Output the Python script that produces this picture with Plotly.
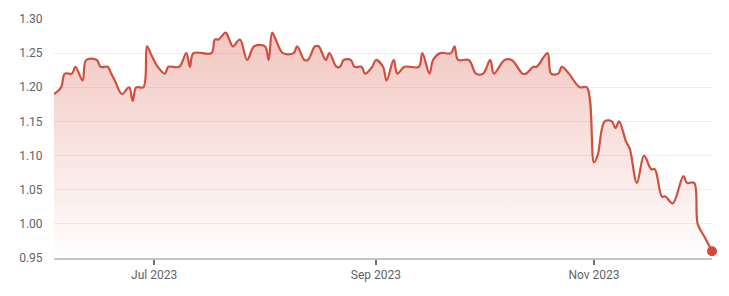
import plotly.graph_objects as go

dates = [
    "2023-06-03", "2023-06-05", "2023-06-06", "2023-06-08", "2023-06-09", "2023-06-11",
    "2023-06-12", "2023-06-15", "2023-06-16", "2023-06-18", "2023-06-19", "2023-06-20",
    "2023-06-22", "2023-06-24", "2023-06-25", "2023-06-26", "2023-06-28", "2023-06-29",
    "2023-06-30", "2023-07-02", "2023-07-04", "2023-07-05", "2023-07-08", "2023-07-10",
    "2023-07-11", "2023-07-12", "2023-07-17", "2023-07-18", "2023-07-19", "2023-07-21",
    "2023-07-22", "2023-07-23", "2023-07-25", "2023-07-27", "2023-07-29", "2023-08-01",
    "2023-08-02", "2023-08-03", "2023-08-04", "2023-08-06", "2023-08-09", "2023-08-10",
    "2023-08-12", "2023-08-13", "2023-08-15", "2023-08-16", "2023-08-18", "2023-08-19",
    "2023-08-21", "2023-08-22", "2023-08-23", "2023-08-25", "2023-08-26", "2023-08-28",
    "2023-08-29", "2023-08-31", "2023-09-01", "2023-09-03", "2023-09-04", "2023-09-06",
    "2023-09-07", "2023-09-09", "2023-09-13", "2023-09-14", "2023-09-16", "2023-09-17",
    "2023-09-19", "2023-09-22", "2023-09-23", "2023-09-24", "2023-09-27", "2023-09-29",
    "2023-10-01", "2023-10-03", "2023-10-04", "2023-10-07", "2023-10-09", "2023-10-12",
    "2023-10-13", "2023-10-15", "2023-10-16", "2023-10-19", "2023-10-20", "2023-10-22",
    "2023-10-23", "2023-10-25", "2023-10-28", "2023-10-30", "2023-11-01", "2023-11-02",
    "2023-11-04", "2023-11-06", "2023-11-07", "2023-11-08", "2023-11-10", "2023-11-11",
    "2023-11-13", "2023-11-15", "2023-11-17", "2023-11-18", "2023-11-20", "2023-11-21",
    "2023-11-23", "2023-11-26", "2023-11-27", "2023-11-29", "2023-11-30", "2023-12-02",
    "2023-12-04",
]
values = [
    1.19, 1.20, 1.22, 1.22, 1.23, 1.21,
    1.24, 1.24, 1.23, 1.23, 1.22, 1.21,
    1.19, 1.20, 1.18, 1.20, 1.20, 1.26,
    1.25, 1.23, 1.22, 1.23, 1.23, 1.25,
    1.23, 1.25, 1.25, 1.27, 1.27, 1.28,
    1.27, 1.26, 1.27, 1.24, 1.26, 1.26,
    1.24, 1.28, 1.27, 1.25, 1.25, 1.26,
    1.24, 1.24, 1.26, 1.26, 1.24, 1.25,
    1.23, 1.23, 1.24, 1.24, 1.23, 1.23,
    1.22, 1.23, 1.24, 1.23, 1.21, 1.24,
    1.22, 1.23, 1.23, 1.25, 1.22, 1.24,
    1.25, 1.25, 1.26, 1.24, 1.24, 1.22,
    1.22, 1.24, 1.22, 1.24, 1.24, 1.22,
    1.22, 1.23, 1.23, 1.25, 1.22, 1.22,
    1.23, 1.22, 1.20, 1.20, 1.09, 1.10,
    1.15, 1.15, 1.14, 1.15, 1.12, 1.11,
    1.06, 1.10, 1.08, 1.08, 1.04, 1.04,
    1.03, 1.07, 1.06, 1.06, 1.00, 0.98,
    0.96,
]

x_tick_vals = ["2023-07-01", "2023-09-01", "2023-11-01"]
x_tick_text = ["Jul 2023", "Sep 2023", "Nov 2023"]
y_tick_vals = [0.95, 1.00, 1.05, 1.10, 1.15, 1.20, 1.25, 1.30]
y_tick_text = ["0.95", "1.00", "1.05", "1.10", "1.15", "1.20", "1.25", "1.30"]

line_color = "#d0503f"

fig = go.Figure()
fig.add_trace(go.Scatter(
    x=dates, y=values, mode="lines",
    line=dict(color=line_color, width=2.2, shape="spline", smoothing=1.0),
    fill="tozeroy",
    fillgradient=dict(
        type="vertical", start=0.95, stop=1.28,
        colorscale=[[0, "rgba(214,80,64,0.0)"], [1, "rgba(214,80,64,0.32)"]],
    ),
    hoverinfo="skip", showlegend=False, cliponaxis=False,
))
fig.add_trace(go.Scatter(
    x=[dates[-1]], y=[values[-1]], mode="markers",
    marker=dict(color="#d44a3a", size=10),
    showlegend=False, cliponaxis=False, hoverinfo="skip",
))

fig.update_layout(
    width=729, height=296,
    margin=dict(l=54, r=17, t=15, b=38),
    paper_bgcolor="white", plot_bgcolor="white",
    font=dict(family="Roboto", size=12, color="#5f6368"),
    xaxis=dict(
        range=["2023-06-03", "2023-12-04"],
        tickvals=x_tick_vals, ticktext=x_tick_text,
        showgrid=False, zeroline=False,
        showline=True, linecolor="#c4c4c4", linewidth=1.5,
        ticks="outside", ticklen=5, tickwidth=2, tickcolor="#707070",
        tickfont=dict(size=12, color="#5f6368"),
    ),
    yaxis=dict(
        range=[0.95, 1.30],
        tickvals=y_tick_vals, ticktext=y_tick_text,
        showgrid=True, gridcolor="#efefef", gridwidth=1,
        zeroline=False, showline=False,
        ticks="outside", ticklen=8, tickcolor="rgba(0,0,0,0)",
        tickfont=dict(size=12, color="#5f6368"),
    ),
)

fig.write_html("out.html")
